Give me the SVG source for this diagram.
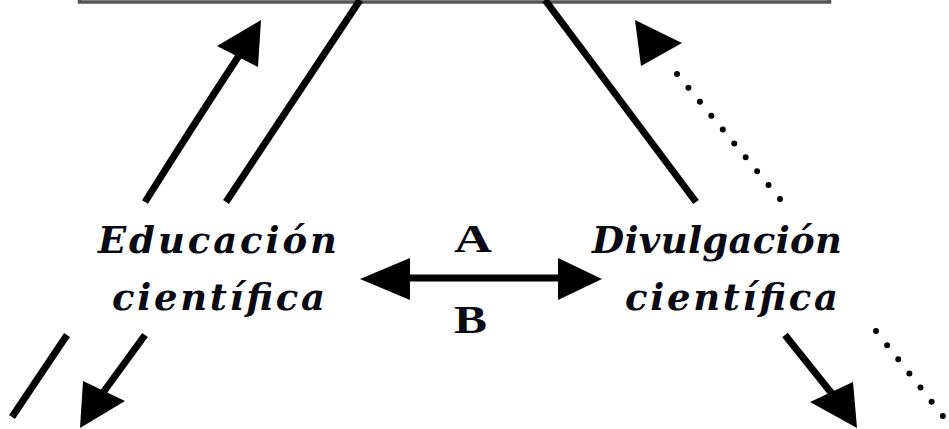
<svg xmlns="http://www.w3.org/2000/svg" width="949" height="429" viewBox="0 0 949 429">
<style>
.node-text{font-family:"DejaVu Serif","Liberation Serif",serif;font-style:italic;font-weight:bold;font-size:37px;fill:#0a0a14}
.lbl{font-family:"Liberation Serif","Times New Roman",serif;font-weight:bold;font-size:40px;fill:#0a0a14}
.solid{fill:none;stroke:#000;stroke-width:7}
.dotted{fill:none;stroke:#000;stroke-width:6;stroke-linecap:round;stroke-dasharray:0 18}
.head{fill:#000}
</style>
<rect width="949" height="429" fill="#fff"/>
<g id="top-box">
<rect x="79.5" y="-60" width="750" height="62" fill="none" stroke="#555" stroke-width="3.5"/>
</g>
<g id="educacion">
<text class="node-text" x="98" y="253" textLength="239" lengthAdjust="spacing">Educación</text>
<text class="node-text" x="112" y="310" textLength="213" lengthAdjust="spacing">científica</text>
</g>
<g id="divulgacion">
<text class="node-text" x="592" y="253" textLength="250" lengthAdjust="spacing">Divulgación</text>
<text class="node-text" x="625" y="310" textLength="213" lengthAdjust="spacing">científica</text>
</g>
<g id="label-a">
<text class="lbl" x="454" y="252" textLength="38" lengthAdjust="spacingAndGlyphs">A</text>
</g>
<g id="label-b">
<text class="lbl" x="454" y="333" textLength="33" lengthAdjust="spacingAndGlyphs">B</text>
</g>
<g id="connectors">
<!-- left upward arrow -->
<path class="solid" d="M145,202 Q194,124 240,54"/>
<polygon class="head" points="261,20 217,46 258,67"/>
<!-- left solid line -->
<line class="solid" x1="360" y1="0" x2="226" y2="202"/>
<!-- right solid line -->
<line class="solid" x1="545" y1="0" x2="696" y2="202"/>
<!-- right dotted arrow -->
<line class="dotted" x1="780" y1="199" x2="668" y2="63"/>
<polygon class="head" points="635,20 682,43 641,66"/>
<!-- double arrow -->
<line class="solid" x1="405" y1="278" x2="562" y2="278"/>
<polygon class="head" points="360,279 410,258 410,300"/>
<polygon class="head" points="602,279 558,258 558,300"/>
<!-- bottom-left line -->
<line class="solid" x1="67" y1="335" x2="12" y2="417"/>
<!-- bottom-left arrow -->
<line class="solid" x1="145" y1="335" x2="102" y2="394"/>
<polygon class="head" points="80,428 83,381 125,401"/>
<!-- bottom-right arrow -->
<line class="solid" x1="785" y1="335" x2="833" y2="395"/>
<polygon class="head" points="857,428 810,402 853,382"/>
<!-- bottom-right dotted -->
<line class="dotted" x1="876" y1="331" x2="946" y2="420"/>
</g>
</svg>
